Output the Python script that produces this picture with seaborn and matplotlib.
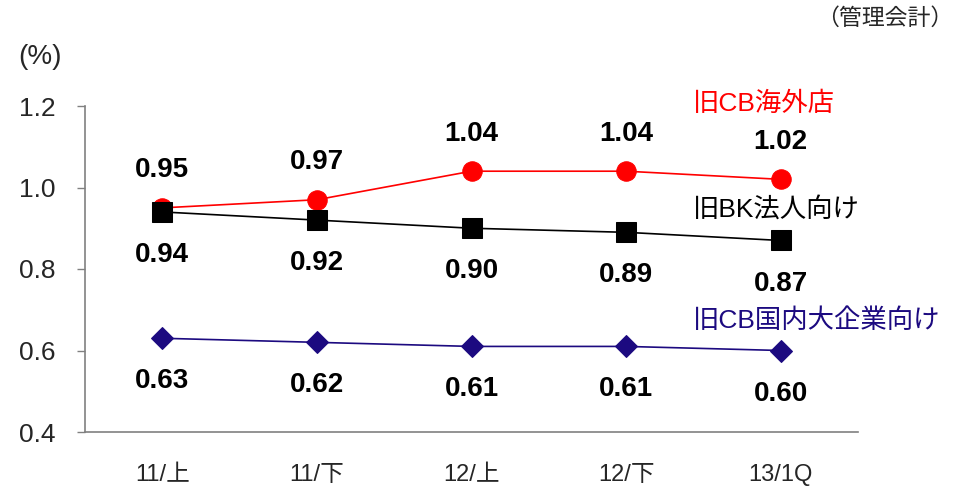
import matplotlib
matplotlib.use("Agg")
import matplotlib.pyplot as plt
import seaborn as sns
import pandas as pd

categories = ["11/上", "11/下", "12/上", "12/下", "13/1Q"]
overseas = [0.95, 0.97, 1.04, 1.04, 1.02]
bk_corp = [0.94, 0.92, 0.90, 0.89, 0.87]
domestic = [0.63, 0.62, 0.61, 0.61, 0.60]
series_names = ["旧CB海外店", "旧BK法人向け", "旧CB国内大企業向け"]
y_ticks = [0.4, 0.6, 0.8, 1.0, 1.2]

sns.set_theme(style="white")
plt.rcParams["font.family"] = ["Liberation Sans", "Noto Sans CJK JP", "DejaVu Sans"]

fig = plt.figure(figsize=(9.71, 4.87), dpi=100)
ax = fig.add_axes([85 / 971, 55 / 487, 773 / 971, 326 / 487])

x = list(range(len(categories)))
df = pd.DataFrame({"x": x * 3,
                   "v": overseas + bk_corp + domestic,
                   "s": [series_names[0]] * 5 + [series_names[1]] * 5 + [series_names[2]] * 5})

styles = [
    (series_names[0], "#ff0000", "o", 14, overseas, "above"),
    (series_names[1], "#000000", "s", 14, bk_corp, "below"),
    (series_names[2], "#1c0a80", "D", 11, domestic, "below"),
]
for name, col, mk, ms, vals, pos in styles:
    sub = df[df["s"] == name]
    sns.lineplot(data=sub, x="x", y="v", ax=ax, color=col, marker=mk, markersize=ms,
                 markeredgecolor=col, linewidth=1.2, legend=False)
    for xi, v in zip(x, vals):
        off = 27 if pos == "above" else -31
        ax.annotate(f"{v:.2f}", (xi, v), xytext=(0, off), textcoords="offset points",
                    ha="center", va="center", fontsize=20, fontweight="bold", color="black")

ax.set_xlim(-0.5, 4.5)
ax.set_ylim(0.4, 1.2)
ax.set_yticks(y_ticks)
ax.set_yticklabels([f"{t:.1f}" for t in y_ticks], fontsize=19)
ax.set_xticks([i - 0.5 for i in range(6)])
ax.set_xticklabels([])
ax.set_xticks(x, minor=True)
ax.set_xticklabels(categories, minor=True, fontsize=17)
ax.tick_params(axis="x", which="major", direction="in", length=6, color="#808080", width=1)
ax.tick_params(axis="x", which="minor", length=0, pad=23)
ax.tick_params(axis="y", direction="out", length=6, color="#808080", width=1, pad=15, left=True)
ax.set_xlabel("")
ax.set_ylabel("")
for sp in ["top", "right"]:
    ax.spines[sp].set_visible(False)
for sp in ["left", "bottom"]:
    ax.spines[sp].set_color("#808080")
    ax.spines[sp].set_linewidth(1.2)

lab_x = 3.43
ax.text(lab_x, 1.205, series_names[0], color="#ff0000", fontsize=19, ha="left", va="center", clip_on=False)
ax.text(lab_x, 0.946, series_names[1], color="#000000", fontsize=19, ha="left", va="center", clip_on=False)
ax.text(lab_x, 0.674, series_names[2], color="#1c0a80", fontsize=19, ha="left", va="center", clip_on=False)

fig.text(18 / 971, 1 - 57 / 487, "(%)", fontsize=20, ha="left", va="center")
fig.text(953 / 971, 1 - 18 / 487, "（管理会計）", fontsize=16.5, ha="right", va="center")

fig.savefig("out.png", dpi=100)
